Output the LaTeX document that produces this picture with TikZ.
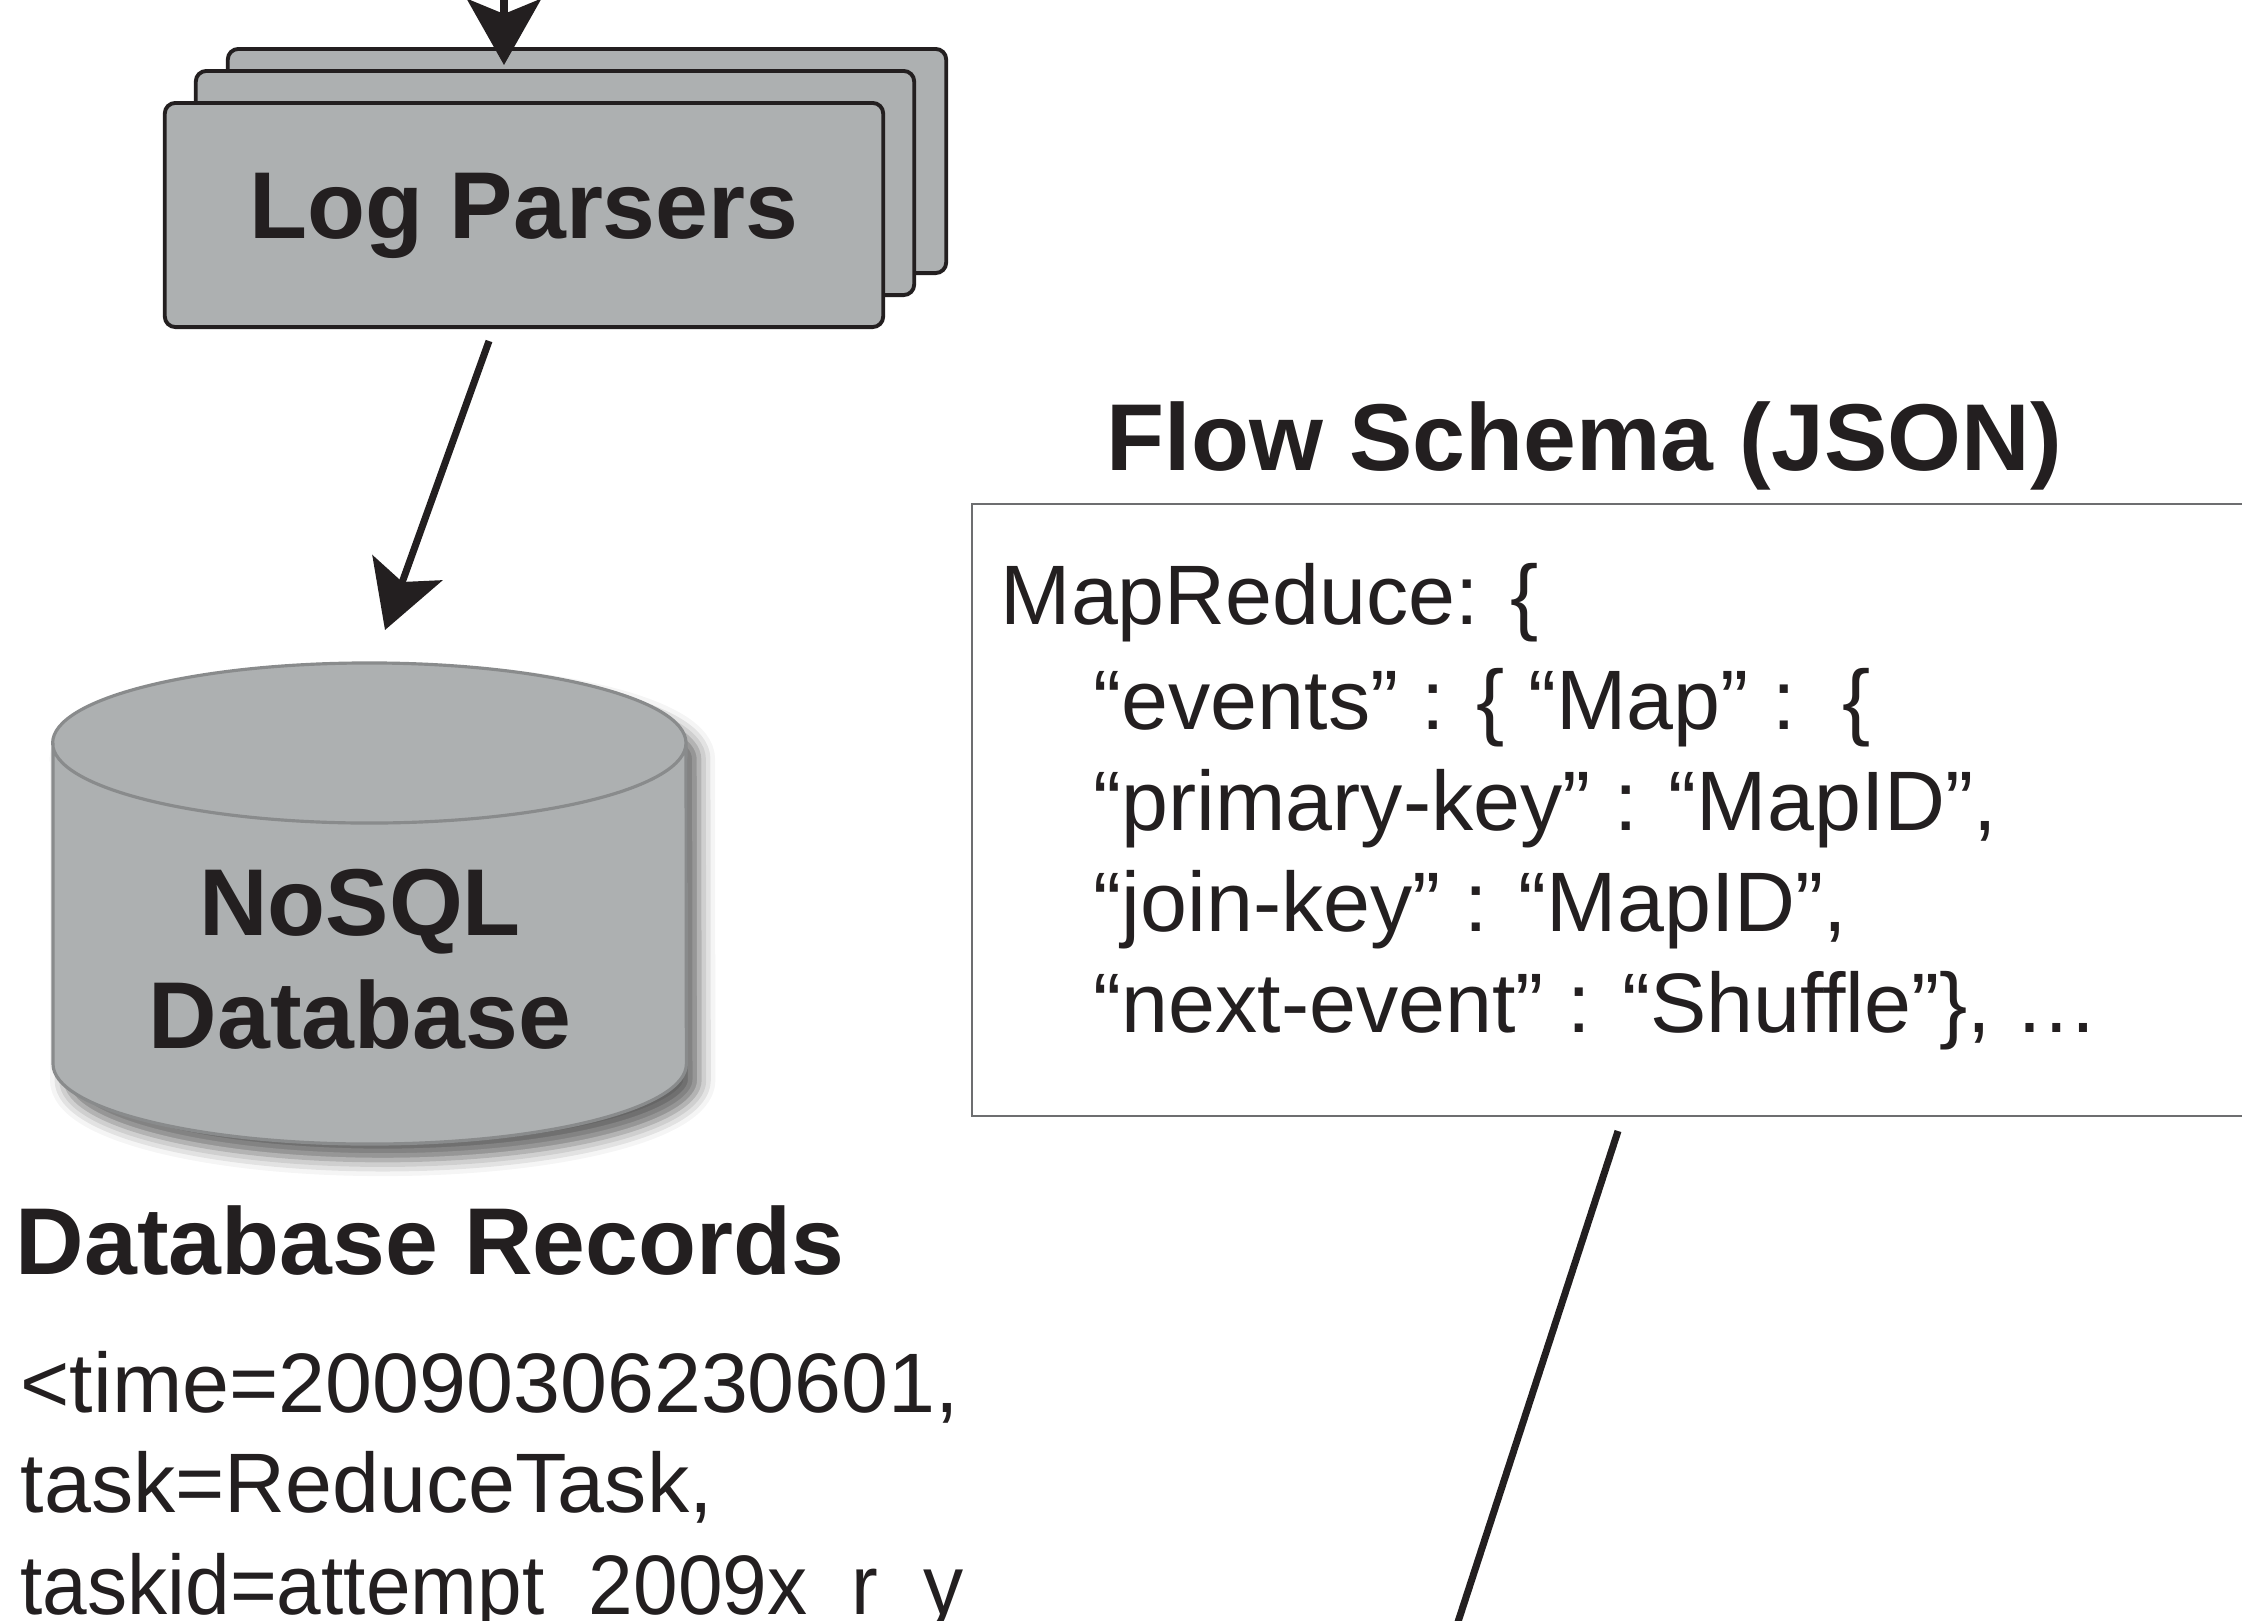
\documentclass[tikz,border=0pt]{standalone}
\usepackage{fontspec}
\setmainfont{Liberation Sans}
\usetikzlibrary{arrows.meta,shadows.blur}

\definecolor{ink}{HTML}{231F20}
\definecolor{boxgray}{HTML}{ADB0B1}
\definecolor{rimgray}{HTML}{898B8C}
\definecolor{framegray}{HTML}{6D6E70}

\tikzset{
  card/.style={draw=ink, fill=boxgray, line width=1.1pt, rounded corners=3pt,
    minimum width=7.18cm, minimum height=2.24cm, inner sep=0pt},
  arr/.style={draw=ink, line width=2pt,
    -{Stealth[length=0.66cm, width=0.74cm, inset=0.15cm]}},
  head/.style={font=\fontsize{27}{32}\selectfont\bfseries, text=ink, inner sep=0pt},
  code/.style={font=\fontsize{24}{29}\selectfont, text=ink, inner sep=0pt, anchor=base west},
}

\begin{document}
\begin{tikzpicture}[x=0.01cm, y=-0.01cm]
    \useasboundingbox (0,0) rectangle (2242,1621);

    % Stack of parser cards
    \node[card] (lp3) at (587,161) {};
    \node[card] (lp2) at (555,183) {};
    \node[card] (lp1) at (524,215) {};
    \node[head, anchor=base] (lptext) at (524,238) {Log Parsers};

    % Arrow coming in from above
    \coordinate (lpsrc) at (504,-20);
    \coordinate (lpin) at (504,65);
    \draw[arr] (lpsrc) -- (lpin);

    % NoSQL cylinder
    \path[fill=boxgray, blur shadow={shadow xshift=0.13cm, shadow yshift=-0.16cm,
        shadow blur radius=0.16cm, shadow opacity=60}]
      (53,743) -- (53,1064) arc[start angle=180, end angle=360, x radius=3.165cm, y radius=0.8cm]
      -- (686,743) arc[start angle=0, end angle=180, x radius=3.165cm, y radius=0.8cm] -- cycle;
    \draw[rimgray, line width=0.9pt]
      (53,743) -- (53,1064) arc[start angle=180, end angle=360, x radius=3.165cm, y radius=0.8cm]
      -- (686,743) arc[start angle=0, end angle=180, x radius=3.165cm, y radius=0.8cm]
      arc[start angle=180, end angle=360, x radius=3.165cm, y radius=0.8cm];
    \node[head, anchor=base] (db1) at (360,935) {NoSQL};
    \node[head, anchor=base] (db2) at (360,1048) {Database};

    % Parsers to database
    \coordinate (dbin) at (385,630);
    \draw[arr] ([shift={(-35,12)}]lp1.south) -- (dbin);

    % Flow schema
    \node[head, anchor=base west] (fstitle) at (1106,470) {Flow Schema (JSON)};
    \node[draw=framegray, line width=0.6pt, minimum width=13cm, minimum height=6.12cm,
      inner sep=0pt, anchor=north west] (schema) at (971,503) {};
    \node[code] (js1) at (1000,624) {MapReduce: \{};
    \node[code] (js2) at (1093,729) {“events” : \{ “Map” :\ \ \{};
    \node[code] (js3) at (1093,830) {“primary-key” : “MapID”,};
    \node[code] (js4) at (1093,931) {“join-key” : “MapID”,};
    \node[code] (js5) at (1093,1032) {“next-event” : “Shuffle”\}, …};

    % Line leaving the schema box
    \coordinate (fsout) at (1618,1131);
    \coordinate (fsend) at (1426,1720);
    \draw[ink, line width=2pt] (fsout) -- (fsend);

    % Database records
    \node[head, anchor=base west] (rectitle) at (15,1274) {Database Records};
    \node[code] (rec1) at (20,1412) {<time=20090306230601,};
    \node[code] (rec2) at (20,1512) {task=ReduceTask,};
    \node[code, xscale=0.95, transform shape] (rec3) at (20,1614) {taskid=attempt\_2009x\_r\_y};
\end{tikzpicture}
\end{document}
